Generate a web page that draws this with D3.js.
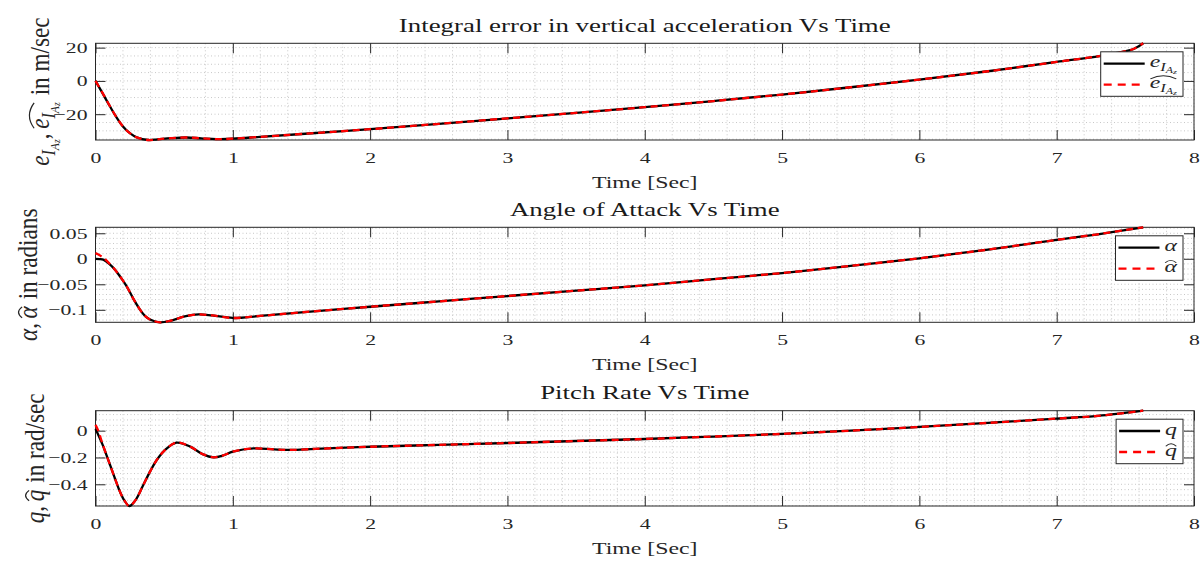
<!DOCTYPE html>
<html>
<head>
<meta charset="utf-8">
<script src="https://cdn.jsdelivr.net/npm/d3@7"></script>
<style>
  body { margin: 0; background: #fff; }
  svg { display: block; }
</style>
</head>
<body>
<svg id="chart" width="1203" height="563"></svg>
<script>
// ---- Integral error in vertical acceleration (m/sec) ----
const timeErr = [0, 0.05, 0.106, 0.15, 0.2, 0.25, 0.3, 0.385, 0.45, 0.55, 0.66, 0.77, 0.88, 1.0, 1.2, 1.5, 2.0, 2.5, 3.0, 3.5, 4.0, 4.5, 5.0, 5.5, 6.0, 6.5, 7.0, 7.3, 7.45, 7.56, 7.63];
const eIAz    = [0, -7.2, -15.4, -21.5, -27.4, -31.4, -33.9, -35.5, -35.1, -34.4, -34.0, -34.5, -35.0, -34.7, -33.6, -31.9, -29.0, -25.8, -22.5, -19.2, -15.8, -12.1, -8.2, -3.8, 0.8, 5.8, 11.4, 14.8, 17.0, 19.2, 22.6];
const eIAzHat = [0, -7.0, -15.3, -21.5, -27.4, -31.4, -33.9, -35.5, -35.1, -34.4, -34.0, -34.5, -35.0, -34.7, -33.6, -31.9, -29.0, -25.8, -22.5, -19.2, -15.8, -12.1, -8.2, -3.8, 0.8, 5.8, 11.4, 14.8, 17.0, 19.2, 22.6];

// ---- Angle of attack (rad) ----
const timeAlpha = [0, 0.03, 0.057, 0.1, 0.142, 0.185, 0.227, 0.275, 0.324, 0.36, 0.397, 0.47, 0.55, 0.65, 0.75, 0.85, 1.0, 1.2, 1.5, 2.0, 2.5, 3.0, 3.5, 4.0, 4.5, 5.0, 5.5, 6.0, 6.5, 7.0, 7.3, 7.63];
const alpha     = [0, -0.0005, -0.002, -0.010, -0.0215, -0.037, -0.054, -0.078, -0.0996, -0.112, -0.119, -0.1245, -0.121, -0.113, -0.109, -0.111, -0.116, -0.112, -0.105, -0.094, -0.0835, -0.073, -0.0625, -0.052, -0.040, -0.028, -0.014, 0.001, 0.018, 0.037, 0.048, 0.0617];
const alphaHat  = [0.011, 0.007, 0.002, -0.009, -0.0215, -0.037, -0.054, -0.078, -0.0996, -0.112, -0.119, -0.1245, -0.121, -0.113, -0.109, -0.111, -0.116, -0.112, -0.105, -0.094, -0.0835, -0.073, -0.0625, -0.052, -0.040, -0.028, -0.014, 0.001, 0.018, 0.037, 0.048, 0.0617];

// ---- Pitch rate (rad/sec) ----
const timeQ = [0, 0.02, 0.05, 0.106, 0.15, 0.178, 0.21, 0.246, 0.29, 0.348, 0.4, 0.446, 0.5, 0.59, 0.69, 0.78, 0.86, 0.93, 1.0, 1.15, 1.3, 1.42, 1.6, 2.0, 2.5, 3.0, 3.5, 4.0, 4.5, 5.0, 5.5, 6.0, 6.5, 7.0, 7.3, 7.63];
const q     = [0.013, -0.03, -0.1, -0.256, -0.38, -0.455, -0.52, -0.562, -0.52, -0.405, -0.30, -0.219, -0.15, -0.089, -0.119, -0.175, -0.199, -0.185, -0.157, -0.132, -0.14, -0.144, -0.136, -0.12, -0.106, -0.092, -0.077, -0.062, -0.044, -0.024, 0.0, 0.028, 0.058, 0.09, 0.11, 0.149];
const qHat  = [0.043, 0.0, -0.095, -0.256, -0.38, -0.455, -0.52, -0.562, -0.52, -0.405, -0.30, -0.219, -0.15, -0.089, -0.119, -0.175, -0.199, -0.185, -0.157, -0.132, -0.14, -0.144, -0.136, -0.12, -0.106, -0.092, -0.077, -0.062, -0.044, -0.024, 0.0, 0.028, 0.058, 0.09, 0.11, 0.149];

// ---- Axis ticks and text ----
const xTicks = [0, 1, 2, 3, 4, 5, 6, 7, 8];
const errTicks = [-20, 0, 20];
const alphaTicks = [-0.1, -0.05, 0, 0.05];
const qTicks = [-0.4, -0.2, 0];
const titles = ["Integral error in vertical acceleration Vs Time", "Angle of Attack Vs Time", "Pitch Rate Vs Time"];
const xLabel = "Time [Sec]";

// ---- Styling / layout ----
const FONT = "'Liberation Serif', 'Times New Roman', serif";
const SX = 1.4;            // horizontal glyph stretch
const SY_LABEL = 1.22;     // stretch along rotated y-label text
const INK = "#262626";
const GRID = "#c8c8c8";
const X0 = 95.5, X1 = 1194;
const TICK = 10;

const svg = d3.select("#chart").attr("font-family", FONT);
svg.append("rect").attr("width", 1203).attr("height", 563).attr("fill", "#fff");

const x = d3.scaleLinear().domain([0, 8]).range([X0, X1]);

// math-like text pieces: s, it (italic), sc (size factor), dy (em of base, + = down), h (glyph top in em), hat (group id), gap (advance in em)
const eSub = (hat) => [
  { s: "e", it: true, hat },
  { s: "I", it: true, sc: 0.7, dy: 0.22, h: 0.66, hat },
  { s: "A", it: true, sc: 0.5, dy: 0.36, h: 0.66, hat },
  { s: "z", it: true, sc: 0.42, dy: 0.42, hat }
];

function mathText(g, pieces, size) {
  let cx = 0;
  const hats = {};
  pieces.forEach(p => {
    if (p.gap) { cx += p.gap * size; return; }
    const fs = size * (p.sc || 1);
    const dy = (p.dy || 0) * size;
    const t = g.append("text")
      .attr("x", cx).attr("y", dy)
      .attr("font-size", fs)
      .attr("font-style", p.it ? "italic" : "normal")
      .attr("fill", INK)
      .text(p.s);
    const w = t.node().getComputedTextLength();
    if (p.hat) {
      const h = hats[p.hat] || (hats[p.hat] = { x0: cx, x1: cx + w, top: Infinity });
      h.x1 = cx + w;
      h.top = Math.min(h.top, dy - fs * (p.h || 0.46));
    }
    cx += w;
  });
  Object.values(hats).forEach(h => {
    const wide = h.x1 - h.x0;
    const base = h.top - size * 0.1;
    const rise = Math.min(size * 0.22, 2 + wide * 0.12);
    g.append("path")
      .attr("d", `M${h.x0 + 0.5},${base} Q${(h.x0 + h.x1) / 2},${base - rise * 1.6} ${h.x1 - 0.5},${base}`)
      .attr("fill", "none").attr("stroke", INK).attr("stroke-width", 0.9);
  });
  return cx;
}

const panels = [
  {
    top: 43.3, bottom: 140, title: titles[0], time: timeErr, truth: eIAz, est: eIAzHat,
    ticks: errTicks, fmt: d3.format("d"), minor: 5, labelX: 49,
    yLabel: [...eSub(null), { s: "," }, { gap: 0.2 }, ...eSub("h"), { gap: 0.3 }, { s: "in m/sec" }],
    legend: [eSub(null), eSub("h")]
  },
  {
    top: 227.3, bottom: 322.3, title: titles[1], time: timeAlpha, truth: alpha, est: alphaHat,
    ticks: alphaTicks, fmt: d3.format(""), minor: 0.01, labelX: 37,
    yLabel: [{ s: "α", it: true }, { s: "," }, { gap: 0.2 }, { s: "α", it: true, hat: "h" }, { gap: 0.3 }, { s: "in radians" }],
    legend: [[{ s: "α", it: true }], [{ s: "α", it: true, hat: "h" }]]
  },
  {
    top: 410.7, bottom: 506, title: titles[2], time: timeQ, truth: q, est: qHat,
    ticks: qTicks, fmt: d3.format(""), minor: 0.04, labelX: 44,
    yLabel: [{ s: "q", it: true }, { s: "," }, { gap: 0.2 }, { s: "q", it: true, hat: "h" }, { gap: 0.3 }, { s: "in rad/sec" }],
    legend: [[{ s: "q", it: true }], [{ s: "q", it: true, hat: "h" }]]
  }
];

function stepValues(lo, hi, step) {
  const out = [];
  for (let k = Math.ceil(lo / step - 1e-9); k * step <= hi + 1e-9; k++) out.push(+(k * step).toFixed(6));
  return out;
}

panels.forEach(p => {
  const all = p.truth.concat(p.est);
  const y = d3.scaleLinear().domain(d3.extent(all)).range([p.bottom, p.top]);
  const g = svg.append("g");

  // dotted grid (minor + major)
  const grid = g.append("g").attr("stroke", GRID).attr("stroke-width", 1).attr("stroke-dasharray", "1,2.5");
  grid.selectAll("line.gx").data(stepValues(0, 8, 0.2)).join("line")
    .attr("class", "gx")
    .attr("x1", d => x(d)).attr("x2", d => x(d)).attr("y1", p.top).attr("y2", p.bottom);
  grid.selectAll("line.gy").data(stepValues(y.domain()[0], y.domain()[1], p.minor)).join("line")
    .attr("class", "gy")
    .attr("x1", X0).attr("x2", X1).attr("y1", d => y(d)).attr("y2", d => y(d));

  // axes with inward ticks on all four sides
  const axB = g.append("g").attr("transform", `translate(0,${p.bottom})`)
    .call(d3.axisBottom(x).tickValues(xTicks).tickSizeInner(-TICK).tickSizeOuter(0).tickPadding(12).tickFormat(d3.format("d")));
  const axT = g.append("g").attr("transform", `translate(0,${p.top})`)
    .call(d3.axisTop(x).tickValues(xTicks).tickSizeInner(-TICK).tickSizeOuter(0).tickFormat(""));
  const axL = g.append("g").attr("transform", `translate(${X0},0)`)
    .call(d3.axisLeft(y).tickValues(p.ticks).tickSizeInner(-TICK).tickSizeOuter(0).tickPadding(8 / SX).tickFormat(p.fmt));
  const axR = g.append("g").attr("transform", `translate(${X1},0)`)
    .call(d3.axisRight(y).tickValues(p.ticks).tickSizeInner(-TICK).tickSizeOuter(0).tickFormat(""));
  [axB, axT, axL, axR].forEach(a => {
    a.select(".domain").remove();
    a.attr("color", INK).attr("font-family", FONT).attr("font-size", 15.5);
    a.selectAll(".tick line").attr("stroke-width", 1);
  });
  axB.selectAll(".tick text").attr("transform", `scale(${SX},1)`);
  axL.selectAll(".tick text").attr("transform", `scale(${SX},1)`);

  // frame
  g.append("rect").attr("x", X0).attr("y", p.top).attr("width", X1 - X0).attr("height", p.bottom - p.top)
    .attr("fill", "none").attr("stroke", INK).attr("stroke-width", 1);

  // signals: measured (solid black) and estimate (dashed red)
  const line = d3.line().x(d => x(d[0])).y(d => y(d[1])).curve(d3.curveCatmullRom.alpha(0.5));
  g.append("path").datum(d3.zip(p.time, p.truth)).attr("d", line)
    .attr("fill", "none").attr("stroke", "#000").attr("stroke-width", 2.3);
  g.append("path").datum(d3.zip(p.time, p.est)).attr("d", line)
    .attr("fill", "none").attr("stroke", "#ff0000").attr("stroke-width", 2.3).attr("stroke-dasharray", "7,4.5");

  // title
  g.append("text").attr("transform", `translate(${(X0 + X1) / 2},${p.top - 11.5}) scale(${SX},1)`)
    .attr("text-anchor", "middle").attr("font-size", 19.2).attr("fill", "#1a1a1a").text(p.title);

  // x label
  g.append("text").attr("transform", `translate(${(X0 + X1) / 2},${p.bottom + 47.5}) scale(${SX},1)`)
    .attr("text-anchor", "middle").attr("font-size", 17).attr("fill", INK).text(xLabel);

  // y label (rotated)
  const yl = g.append("g").attr("transform", `translate(${p.labelX},${(p.top + p.bottom) / 2}) scale(${SX},${SY_LABEL}) rotate(-90)`);
  const inner = yl.append("g");
  const wl = mathText(inner, p.yLabel, 19);
  inner.attr("transform", `translate(${-wl / 2},0)`);

  // legend
  const lg = g.append("g");
  const box = lg.append("rect").attr("fill", "#fff").attr("stroke", INK).attr("stroke-width", 1);
  const rows = [{ stroke: "#000", dash: null }, { stroke: "#ff0000", dash: "8,6" }];
  const LS = 17, sample = 41;
  let textW = 0;
  const rowGroups = p.legend.map(pieces => {
    const rg = lg.append("g");
    const w = mathText(rg, pieces, LS);
    textW = Math.max(textW, w * SX);
    return rg;
  });
  const bw = 4 + sample + 5 + textW + 5, bh = 44.5;
  const bx = X1 - 11 - bw, by = p.top + 8.5;
  box.attr("x", bx).attr("y", by).attr("width", bw).attr("height", bh);
  rowGroups.forEach((rg, i) => {
    const ry = by + 11.8 + i * 21;
    lg.append("line").attr("x1", bx + 3).attr("x2", bx + 3 + sample).attr("y1", ry).attr("y2", ry)
      .attr("stroke", rows[i].stroke).attr("stroke-width", 2.3).attr("stroke-dasharray", rows[i].dash);
    rg.attr("transform", `translate(${bx + 4 + sample + 4},${ry + LS * 0.22}) scale(${SX},1)`);
  });
});
</script>
</body>
</html>
